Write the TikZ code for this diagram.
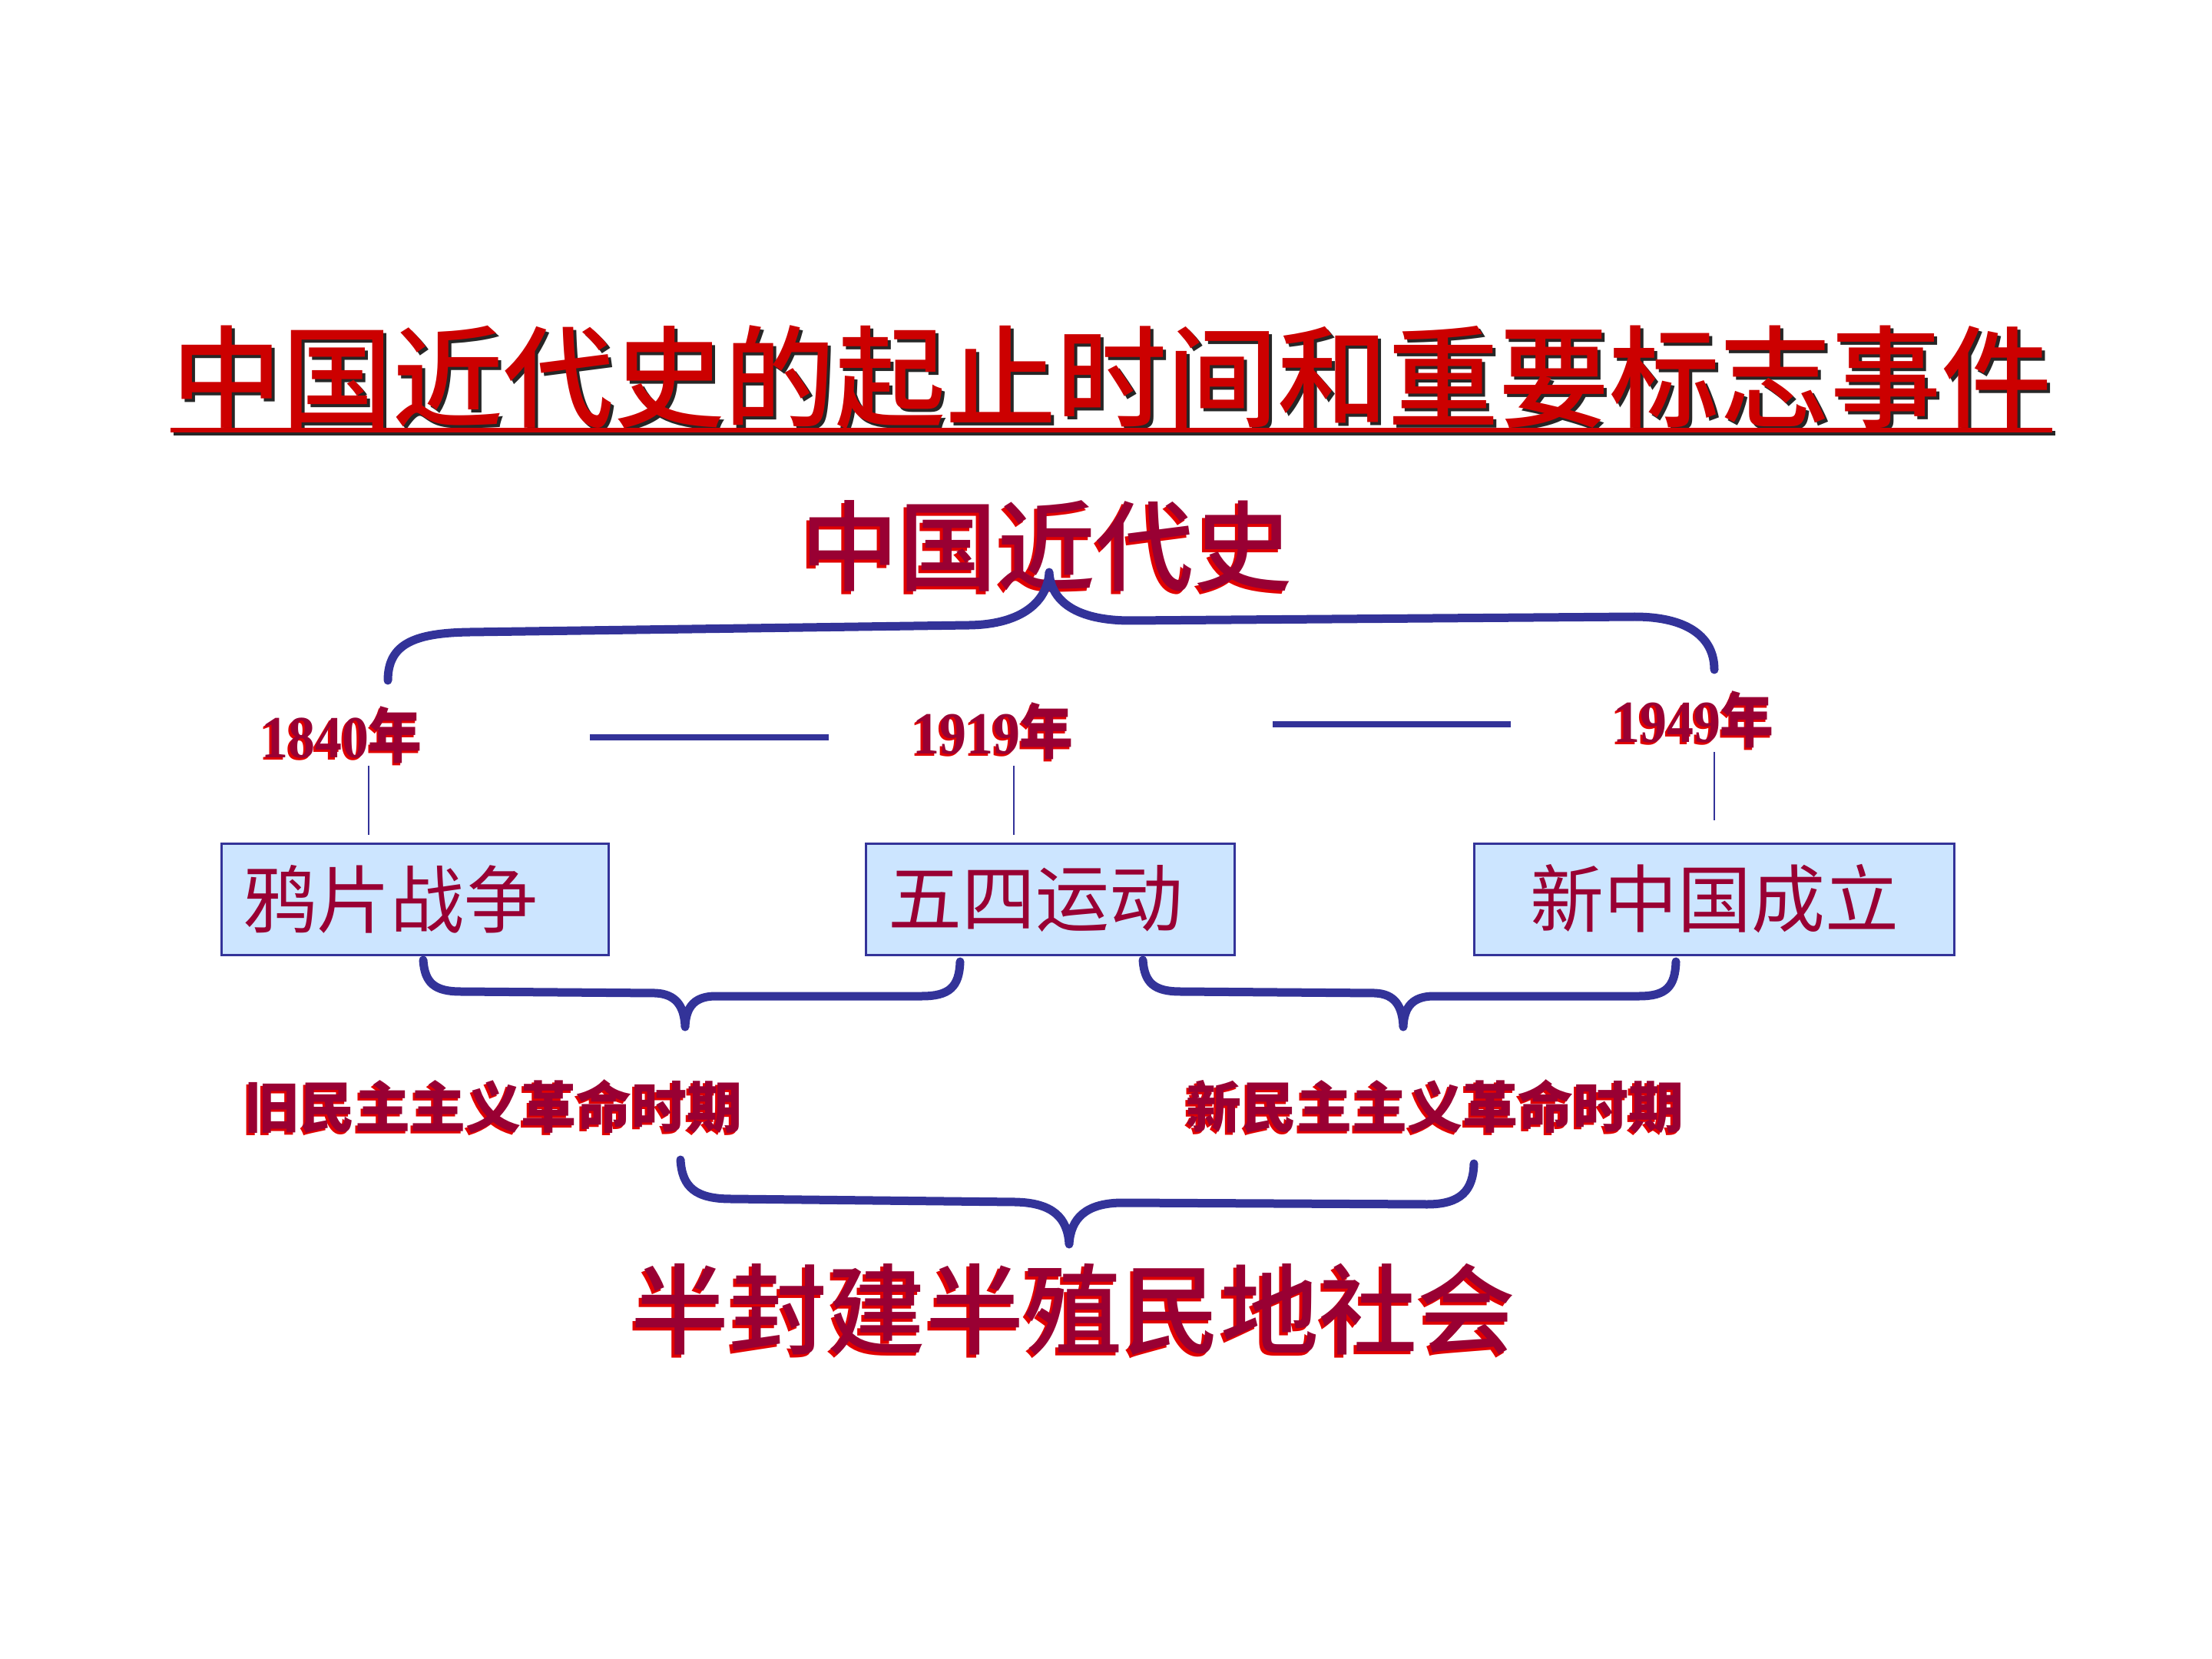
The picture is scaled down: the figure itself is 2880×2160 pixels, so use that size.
\documentclass[tikz,border=0pt]{standalone}
\usepackage{fontspec}
\usepackage{graphicx}
\usetikzlibrary{calc}
\newfontfamily\cjk{Noto Sans CJK SC}
\newfontfamily\cjkmed{Noto Sans CJK SC Medium}
\newfontfamily\numfont{Liberation Serif}
\definecolor{crimson}{HTML}{990033}
\definecolor{hired}{HTML}{CC0000}
\definecolor{shadred}{HTML}{E00000}
\definecolor{navy}{HTML}{333399}
\definecolor{boxfill}{HTML}{CCE5FF}
% text with an offset copy of itself behind it
\newcommand\shadowed[4]{\rlap{\kern#2\raisebox{#3}{\textcolor{#1}{#4}}}#4}

\begin{document}
\begin{tikzpicture}[x=0.25pt,y=-0.25pt,
  plain/.style={inner sep=0pt},
  titletext/.style={plain, text=hired, font=\cjkmed\fontsize{36pt}{40pt}\selectfont},
  headtext/.style={plain, text=crimson, font=\cjkmed\fontsize{32pt}{36pt}\selectfont},
  yeartext/.style={plain, text=crimson, font=\numfont\bfseries\fontsize{18pt}{20pt}\selectfont},
  periodtext/.style={plain, text=crimson, font=\cjk\bfseries\fontsize{18pt}{20pt}\selectfont},
  evbox/.style={draw=navy, line width=0.75pt, fill=boxfill, text=crimson,
    font=\cjk\fontsize{24pt}{28pt}\selectfont, minimum height=36.25pt,
    inner xsep=7.2pt, inner ysep=0pt},
  brace/.style={draw=navy, line width=2.75pt, line cap=round, line join=round},
  timeline/.style={draw=navy, line width=2pt},
  tick/.style={draw=navy, line width=0.6pt}]

\useasboundingbox (0,0) rectangle (2880,2160);
\fill[white] (0,0) rectangle (2880,2160);

% heading with its underline
\node[titletext] (title) at (1447,493)
  {\shadowed{black!85}{1pt}{-1pt}{中国近代史的起止时间和重要标志事件}};
\coordinate (ulY) at (0,560);
\coordinate (ulL) at (title.west |- ulY);
\coordinate (ulR) at (title.east |- ulY);
\draw[black!85, line width=1.5pt] ($(ulL)+(4,4)$) -- ($(ulR)+(4,4)$);
\draw[hired, line width=1.5pt] (ulL) -- (ulR);

% whole period
\node[headtext] (modern) at (1362,713) {\shadowed{shadred}{-0.8pt}{-0.8pt}{中国近代史}};

% brace over the whole timeline
\draw[brace] (505,886) .. controls (505,838) and (540,824) .. (612,823)
  -- (1262,814) .. controls (1332,813) and (1364,782) .. (1366,745)
  .. controls (1368,782) and (1400,808) .. (1472,808)
  -- (2128,803) .. controls (2198,803) and (2232,830) .. (2232,872);

% years
\node[yeartext] (y1840) at (445,958)
  {\scalebox{0.97}[1.08]{\shadowed{shadred}{-0.6pt}{-0.6pt}{1840{\cjk\bfseries 年}}}};
\node[yeartext] (y1919) at (1293,953)
  {\scalebox{0.97}[1.08]{\shadowed{shadred}{-0.6pt}{-0.6pt}{1919{\cjk\bfseries 年}}}};
\node[yeartext] (y1949) at (2205,938)
  {\scalebox{0.97}[1.08]{\shadowed{shadred}{-0.6pt}{-0.6pt}{1949{\cjk\bfseries 年}}}};

% dashes between the years
\coordinate (d1a) at (768,960);
\coordinate (d1b) at (1079,960);
\coordinate (d2a) at (1657,943);
\coordinate (d2b) at (1967,943);
\draw[timeline] (d1a) -- (d1b);
\draw[timeline] (d2a) -- (d2b);

% events
\node[evbox, text width=111.6pt, align=left] (opium) at (540,1170.5) {鸦片战争};
\node[evbox, text width=105.6pt, align=left] (mayfourth) at (1367.5,1170.5) {五四运动};
\node[evbox, text width=141.85pt, align=center] (prc) at (2232,1170.5) {新中国成立};

% ticks from years down to events
\coordinate (k1a) at (480,997);
\coordinate (k1b) at (480,1087);
\coordinate (k2a) at (1320,997);
\coordinate (k2b) at (1320,1087);
\coordinate (k3a) at (2232,979);
\coordinate (k3b) at (2232,1068);
\draw[tick] (k1a) -- (k1b);
\draw[tick] (k2a) -- (k2b);
\draw[tick] (k3a) -- (k3b);

% braces under the events
\draw[brace] (551,1250) .. controls (553,1280) and (566,1291) .. (600,1291)
  -- (853,1293) .. controls (880,1294) and (891,1310) .. (892,1337)
  .. controls (893,1310) and (905,1297) .. (932,1297)
  -- (1200,1297) .. controls (1236,1297) and (1249,1285) .. (1250,1252);
\draw[brace] (1488,1250) .. controls (1490,1280) and (1503,1291) .. (1537,1291)
  -- (1790,1293) .. controls (1816,1294) and (1826,1310) .. (1827,1337)
  .. controls (1828,1310) and (1840,1297) .. (1867,1297)
  -- (2134,1297) .. controls (2169,1297) and (2181,1285) .. (2182,1252);

% the two revolutionary periods
\node[periodtext] (oldrev) at (642,1442) {\shadowed{shadred}{-0.6pt}{-0.6pt}{旧民主主义革命时期}};
\node[periodtext] (newrev) at (1868,1442) {\shadowed{shadred}{-0.6pt}{-0.6pt}{新民主主义革命时期}};

% brace joining both periods
\draw[brace] (886,1510) .. controls (888,1546) and (906,1561) .. (952,1561)
  -- (1322,1565) .. controls (1370,1566) and (1390,1585) .. (1392,1620)
  .. controls (1394,1586) and (1414,1566) .. (1462,1566)
  -- (1858,1568) .. controls (1902,1568) and (1918,1550) .. (1919,1515);

% nature of society
\node[headtext] (society) at (1397,1707) {\shadowed{shadred}{-0.8pt}{-0.8pt}{半封建半殖民地社会}};

\end{tikzpicture}
\end{document}
